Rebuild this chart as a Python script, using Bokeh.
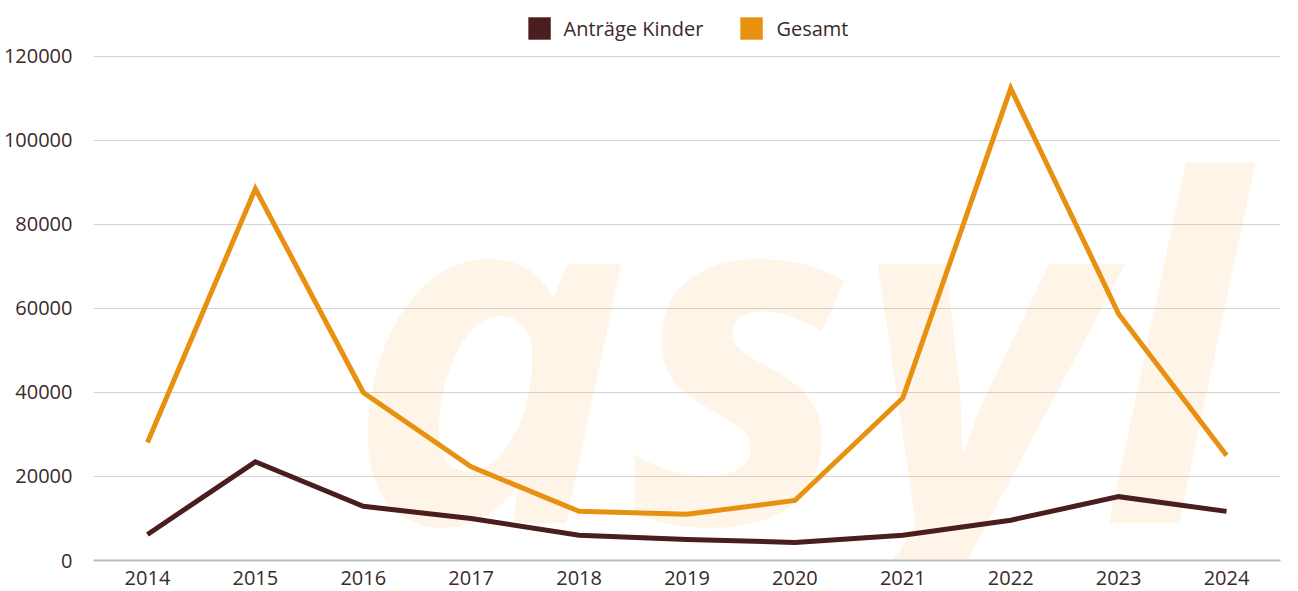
from bokeh.plotting import figure
from bokeh.models import (FixedTicker, Legend, LegendItem, Label, Range1d,
                          BasicTickFormatter)
from bokeh.embed import file_html
from bokeh.resources import INLINE

years = [2014, 2015, 2016, 2017, 2018, 2019, 2020, 2021, 2022, 2023, 2024]
gesamt = [28100, 88500, 40000, 22300, 11700, 11000, 14300, 38700, 112400, 58700, 25000]
kinder = [6200, 23500, 12900, 10000, 6000, 5000, 4300, 6000, 9600, 15200, 11700]
y_ticks = [0, 20000, 40000, 60000, 80000, 100000, 120000]

C_GES = "#e8900f"
C_KIN = "#4a1d1e"
TXT = "#3a2a2b"
FONT = "Open Sans"
NAN = float("nan")

p = figure(width=1298, height=591, output_backend="svg", toolbar_location=None,
           x_range=Range1d(2013.5, 2024.5), y_range=Range1d(0, 133333),
           min_border_left=92, min_border_right=18, min_border_top=0,
           min_border_bottom=31)
p.outline_line_color = None
p.background_fill_color = "white"

# watermark
wm = Label(x=2015.85, y=52800, text="asyl", text_font=FONT, text_font_size="475px",
           text_font_style="bold italic", text_color="#f59614", text_alpha=0.1,
           text_baseline="alphabetic", level="underlay")
p.add_layout(wm)

r_kin = p.line(years, kinder, line_color=C_KIN, line_width=5, line_join="miter")
r_ges = p.line(years, gesamt, line_color=C_GES, line_width=5, line_join="miter")

# legend swatches (no visible marks)
sw_kin = p.quad(left=[NAN], right=[NAN], top=[NAN], bottom=[NAN],
                fill_color=C_KIN, line_color=None)
sw_ges = p.quad(left=[NAN], right=[NAN], top=[NAN], bottom=[NAN],
                fill_color=C_GES, line_color=None)

p.xaxis.ticker = FixedTicker(ticks=years)
p.yaxis.ticker = FixedTicker(ticks=y_ticks)
p.yaxis.formatter = BasicTickFormatter(use_scientific=False)
for ax in (p.xaxis[0], p.yaxis[0]):
    ax.axis_line_color = None
    ax.major_tick_line_color = None
    ax.minor_tick_line_color = None
    ax.major_label_text_font = FONT
    ax.major_label_text_font_size = "20px"
    ax.major_label_text_color = TXT
p.xaxis.axis_line_color = "#bdbdbd"
p.xaxis.axis_line_width = 2
p.yaxis.major_label_standoff = 15
p.xaxis.major_label_standoff = 4

p.xgrid.grid_line_color = None
p.ygrid.ticker = FixedTicker(ticks=y_ticks)
p.ygrid.grid_line_color = "#d4d4d4"
p.ygrid.grid_line_width = 1

legend = Legend(items=[LegendItem(label="Anträge Kinder", renderers=[sw_kin]),
                       LegendItem(label="Gesamt", renderers=[sw_ges])],
                orientation="horizontal", location="top_center",
                label_text_font=FONT, label_text_font_size="20px",
                label_text_color=TXT, glyph_width=28, glyph_height=28,
                label_standoff=11, spacing=34, padding=0, margin=14,
                border_line_color=None, background_fill_alpha=0)
p.add_layout(legend)

open("out.html", "w").write(file_html(p, INLINE))
